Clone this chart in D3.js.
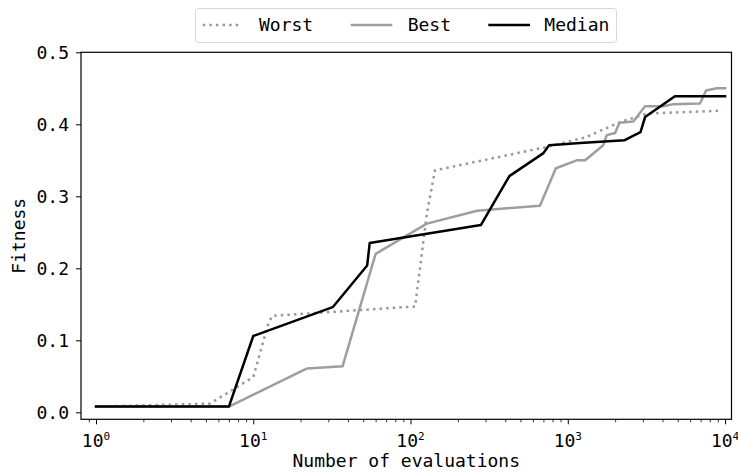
<!DOCTYPE html>
<html>
<head>
<meta charset="utf-8">
<script src="https://cdn.jsdelivr.net/npm/d3@7"></script>
<style>
  html, body { margin: 0; padding: 0; background: #fff; }
  svg { display: block; }
  text { font-family: "DejaVu Sans Mono", monospace; }
</style>
</head>
<body>
<svg id="chart" width="738" height="472"></svg>
<script>
// ---- data ----
const worstX  = [1, 5.3, 7.1, 10, 12.5, 13.2, 107, 127, 143, 750, 1300, 2150, 3200, 9600];
const worstY  = [0.008, 0.012, 0.029, 0.049, 0.124, 0.134, 0.147, 0.276, 0.336, 0.369, 0.382, 0.403, 0.415, 0.419];

const bestX   = [1, 7, 22, 37, 60, 127, 265, 665, 840, 1140, 1290, 1680, 1770, 2000, 2130, 2610, 3100, 4050, 4690, 6930, 7570, 8850, 10000];
const bestY   = [0.008, 0.008, 0.061, 0.064, 0.220, 0.262, 0.280, 0.287, 0.339, 0.350, 0.350, 0.371, 0.385, 0.388, 0.402, 0.404, 0.425, 0.425, 0.428, 0.429, 0.447, 0.450, 0.450];

const medianX = [1, 7, 10, 32, 53, 55, 280, 425, 700, 760, 1200, 2300, 2900, 3100, 4800, 10000];
const medianY = [0.008, 0.008, 0.106, 0.146, 0.204, 0.235, 0.260, 0.328, 0.360, 0.371, 0.374, 0.378, 0.389, 0.410, 0.439, 0.439];

const yTicks = [0.0, 0.1, 0.2, 0.3, 0.4, 0.5];
const xTicks = [1, 10, 100, 1000, 10000];
const xTickExp = ["0", "1", "2", "3", "4"];
const seriesNames = ["Worst", "Best", "Median"];

// ---- layout ----
const svg = d3.select("#chart");
const pLeft = 81, pRight = 731.5, pTop = 52.3, pBottom = 419.3;

const x = d3.scaleLog().domain([Math.pow(10, -0.0954), Math.pow(10, 4.041)]).range([pLeft, pRight]);
const y = d3.scaleLinear().domain([-0.00972, 0.5]).range([pBottom, pTop]);

const fontSize = 18;

// series
const series = [
  { name: "Worst", xs: worstX, ys: worstY, color: "#999999", dash: "2.5,4.1", width: 2.5 },
  { name: "Best", xs: bestX, ys: bestY, color: "#9e9e9e", dash: null, width: 2.5 },
  { name: "Median", xs: medianX, ys: medianY, color: "#000000", dash: null, width: 2.5 }
];

const line = d3.line().x(d => x(d[0])).y(d => y(d[1]));

const plot = svg.append("g");
plot.append("clipPath").attr("id", "clip").append("rect")
  .attr("x", pLeft).attr("y", pTop).attr("width", pRight - pLeft).attr("height", pBottom - pTop);

series.forEach(s => {
  const pts = s.xs.map((v, i) => [v, s.ys[i]]);
  plot.append("path")
    .attr("d", line(pts))
    .attr("fill", "none")
    .attr("stroke", s.color)
    .attr("stroke-width", s.width)
    .attr("stroke-dasharray", s.dash)
    .attr("stroke-linejoin", "round")
    .attr("stroke-linecap", s.dash ? "butt" : "square")
    .attr("clip-path", "url(#clip)");
});

// frame
svg.append("rect")
  .attr("x", pLeft).attr("y", pTop).attr("width", pRight - pLeft).attr("height", pBottom - pTop)
  .attr("fill", "none").attr("stroke", "#000").attr("stroke-width", 1.2);

// y axis
const yAxis = d3.axisLeft(y).tickValues(yTicks).tickFormat(d3.format(".1f")).tickSize(5).tickPadding(7);
const gy = svg.append("g").attr("transform", `translate(${pLeft},0)`).call(yAxis);
gy.select(".domain").remove();
gy.selectAll("text").attr("font-size", fontSize).attr("fill", "#000").style("font-family", "DejaVu Sans Mono");
gy.selectAll("line").attr("stroke", "#000").attr("stroke-width", 1);

// x axis major
const xAxis = d3.axisBottom(x).tickValues(xTicks).tickFormat("").tickSize(5);
const gx = svg.append("g").attr("transform", `translate(0,${pBottom})`).call(xAxis);
gx.select(".domain").remove();
gx.selectAll("line").attr("stroke", "#000").attr("stroke-width", 1);

// minor ticks
const minor = [];
for (let e = -1; e <= 4; e++) {
  for (let m = 2; m <= 9; m++) {
    const v = m * Math.pow(10, e);
    if (v >= x.domain()[0] && v <= x.domain()[1]) minor.push(v);
  }
}
const xMinor = d3.axisBottom(x).tickValues(minor).tickFormat("").tickSize(3);
const gxm = svg.append("g").attr("transform", `translate(0,${pBottom})`).call(xMinor);
gxm.select(".domain").remove();
gxm.selectAll("line").attr("stroke", "#000").attr("stroke-width", 0.8);

// x tick labels with superscripts
xTicks.forEach((v, i) => {
  const t = svg.append("text")
    .attr("x", x(v))
    .attr("y", 447)
    .attr("text-anchor", "middle")
    .attr("font-size", fontSize)
    .attr("fill", "#000");
  t.append("tspan").text("10");
  t.append("tspan").attr("dy", -7).attr("font-size", 11).text(xTickExp[i]);
});

// axis labels
svg.append("text")
  .attr("x", (pLeft + pRight) / 2)
  .attr("y", 467)
  .attr("text-anchor", "middle")
  .attr("font-size", fontSize)
  .attr("fill", "#000")
  .text("Number of evaluations");

svg.append("text")
  .attr("transform", `translate(25,${(pTop + pBottom) / 2}) rotate(-90)`)
  .attr("text-anchor", "middle")
  .attr("font-size", fontSize)
  .attr("fill", "#000")
  .text("Fitness");

// legend
const lg = svg.append("g");
lg.append("rect")
  .attr("x", 195.5).attr("y", 8.5).attr("width", 421).attr("height", 34)
  .attr("rx", 3).attr("fill", "#fff").attr("stroke", "#d6d6d6").attr("stroke-width", 1);
const legendPos = [
  { x1: 202.7, x2: 241.7, tx: 259 },
  { x1: 350.7, x2: 392.3, tx: 407.7 },
  { x1: 488.3, x2: 530, tx: 544.3 }
];
series.forEach((s, i) => {
  const p = legendPos[i];
  lg.append("line")
    .attr("x1", p.x1).attr("x2", p.x2).attr("y1", 25).attr("y2", 25)
    .attr("stroke", s.color).attr("stroke-width", s.width)
    .attr("stroke-dasharray", s.dash);
  lg.append("text")
    .attr("x", p.tx).attr("y", 31)
    .attr("font-size", fontSize).attr("fill", "#000")
    .text(seriesNames[i]);
});
</script>
</body>
</html>
